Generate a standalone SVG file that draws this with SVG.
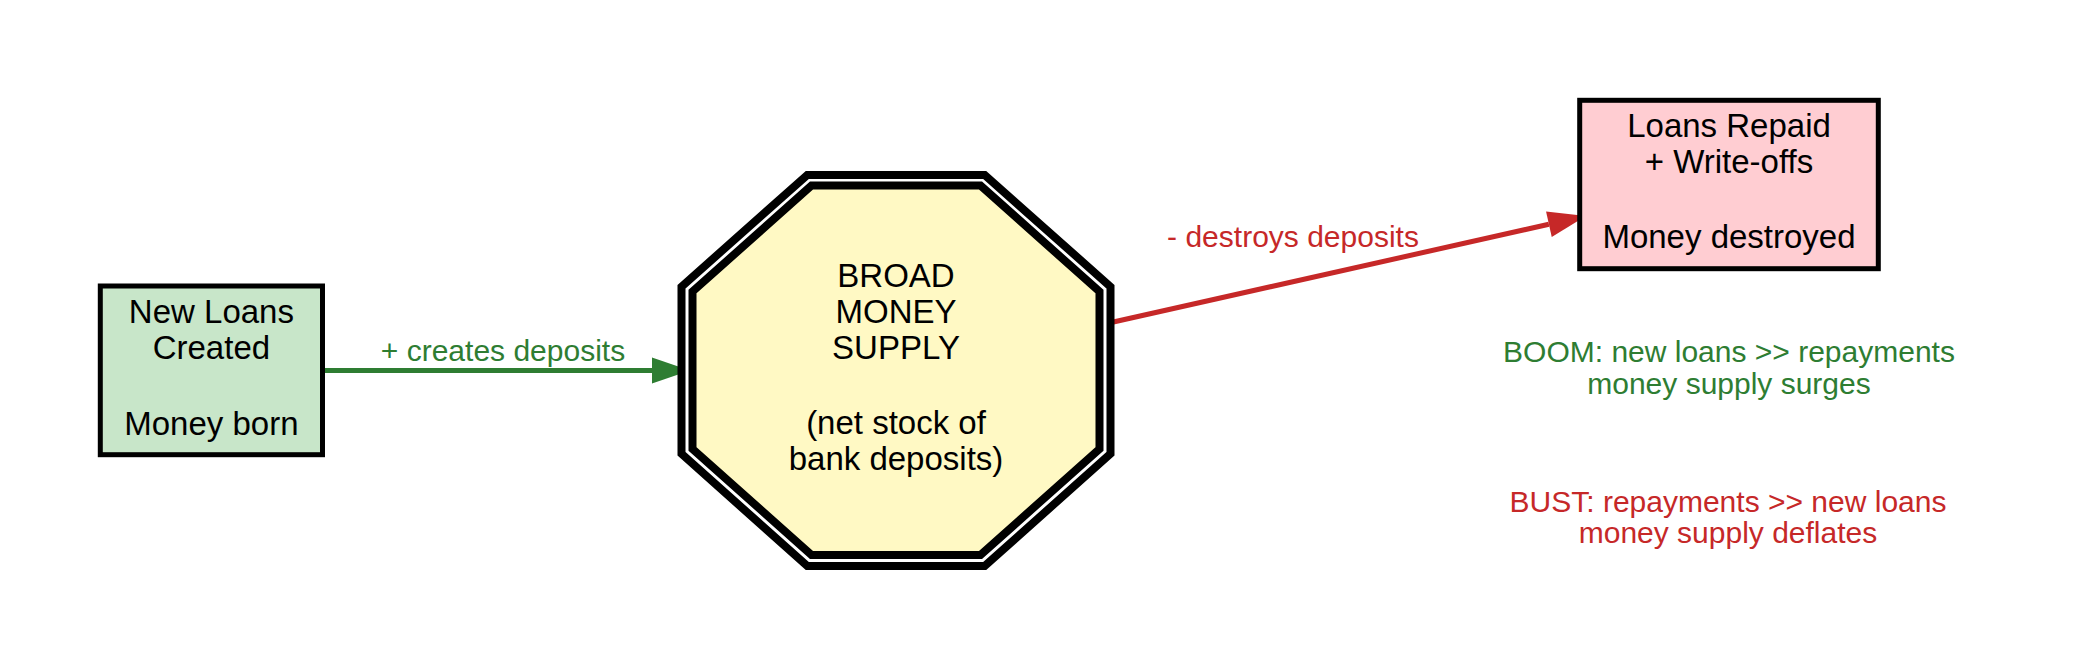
<svg xmlns="http://www.w3.org/2000/svg" width="2079" height="671" viewBox="0 0 2079 671">
<style>
.node text { font-family: "Liberation Sans", Arial, sans-serif; font-size: 33px; fill: #000; text-anchor: middle; }
.lbl { font-family: "Liberation Sans", Arial, sans-serif; font-size: 30px; text-anchor: middle; }
.green { fill: #2e7d32; }
.red { fill: #c62828; }
.box { stroke: #000; stroke-width: 5; }
</style>
<defs>
<marker id="arrG" markerUnits="userSpaceOnUse" markerWidth="40" markerHeight="28" refX="0" refY="13" orient="auto" overflow="visible">
<path d="M0,0 L38,13 L0,26 z" fill="#2e7d32"/>
</marker>
<marker id="arrR" markerUnits="userSpaceOnUse" markerWidth="40" markerHeight="28" refX="0" refY="13" orient="auto" overflow="visible">
<path d="M0,0 L38,13 L0,26 z" fill="#c62828"/>
</marker>
</defs>
<rect width="2079" height="671" fill="#fff"/>
<g id="connectors">
<line x1="322.5" y1="370.5" x2="652" y2="370.5" stroke="#2e7d32" stroke-width="5" marker-end="url(#arrG)"/>
<text class="lbl green" x="503" y="360.7">+ creates deposits</text>
<line x1="1110" y1="322.7" x2="1548.9" y2="224.3" stroke="#c62828" stroke-width="5" marker-end="url(#arrR)"/>
<text class="lbl red" x="1293" y="246.7">- destroys deposits</text>
</g>
<g id="new_loans" class="node">
<rect class="box" x="100.3" y="286" width="222.2" height="168.7" fill="#c8e6c9"/>
<text x="211.4" y="323.3">New Loans</text>
<text x="211.4" y="359.3">Created</text>
<text x="211.4" y="435">Money born</text>
</g>
<g id="money_supply" class="node">
<polygon points="807.3,175 984.7,175 1110.5,286.7 1110.5,453.8 984.7,566 807.3,566 681.5,453.8 681.5,286.7" fill="#fff" stroke="#000" stroke-width="8"/>
<polygon points="811.5,185.5 980.5,185.5 1099.5,291.6 1099.5,448.9 980.5,555 811.5,555 692.5,448.9 692.5,291.6" fill="#fff9c4" stroke="#000" stroke-width="8"/>
<text x="896" y="286.7">BROAD</text>
<text x="896" y="323.3">MONEY</text>
<text x="896" y="359.3">SUPPLY</text>
<text x="896" y="434">(net stock of</text>
<text x="896" y="470">bank deposits)</text>
</g>
<g id="loans_repaid" class="node">
<rect class="box" x="1579.7" y="100.3" width="298.6" height="168.4" fill="#ffcdd2"/>
<text x="1729" y="136.7">Loans Repaid</text>
<text x="1729" y="172.7">+ Write-offs</text>
<text x="1729" y="248.3">Money destroyed</text>
</g>
<g id="boom_note">
<text class="lbl green" x="1729" y="361.7">BOOM: new loans &gt;&gt; repayments</text>
<text class="lbl green" x="1729" y="394">money supply surges</text>
</g>
<g id="bust_note">
<text class="lbl red" x="1728" y="511.7">BUST: repayments &gt;&gt; new loans</text>
<text class="lbl red" x="1728" y="543.3">money supply deflates</text>
</g>
</svg>
